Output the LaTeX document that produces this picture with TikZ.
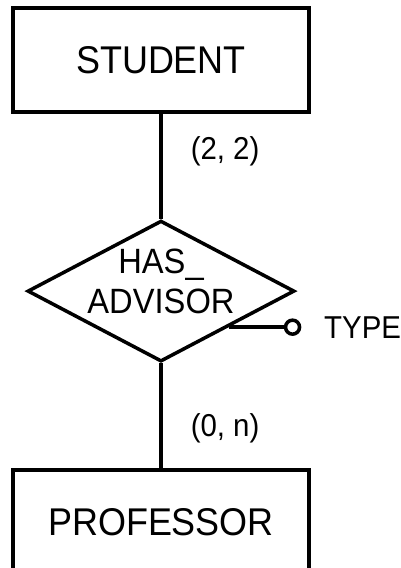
\documentclass[tikz,border=0pt]{standalone}
\usepackage{fontspec}
\setmainfont{Liberation Sans}[FakeStretch=0.93]
\usetikzlibrary{shapes,positioning}

\begin{document}
\begin{tikzpicture}[
    entity/.style={rectangle, draw, line width=2.1pt, minimum width=5.92cm, minimum height=2.08cm, font=\fontsize{22}{26}\selectfont},
    rel/.style={diamond, draw, line width=2pt, minimum width=5.34cm, minimum height=2.82cm, inner sep=0pt},
    conn/.style={-, line width=2pt},
    attrdot/.style={circle, draw, line width=2pt, minimum size=0.28cm, inner sep=0pt},
    card/.style={font=\fontsize{18}{21}\selectfont, inner sep=2pt},
]
\useasboundingbox (-3.22,1.2) rectangle (4.8,-10.16);

\node[entity] (student) at (0,0) {STUDENT};
\node[rel, below=2.1cm of student] (adv) {};
\node[align=center, font=\fontsize{20}{23}\selectfont, yshift=0.2cm] (advtxt) at (adv) {HAS\_\\ADVISOR};
\node[entity, below=2.1cm of adv] (prof) {PROFESSOR};

% attribute of the relationship
\node[attrdot, right=1.1cm of adv.-28] (typeattr) {};
\node[card, right=0.38cm of typeattr] (typelbl) {TYPE};

\draw[conn] (student) -- node[card, pos=0.36, right=0.49cm] (c1) {(2, 2)} (adv);
\draw[conn] (adv) -- node[card, pos=0.62, right=0.49cm] (c2) {(0, n)} (prof);
\draw[conn] (adv.-28) -- (typeattr);
\end{tikzpicture}
\end{document}
